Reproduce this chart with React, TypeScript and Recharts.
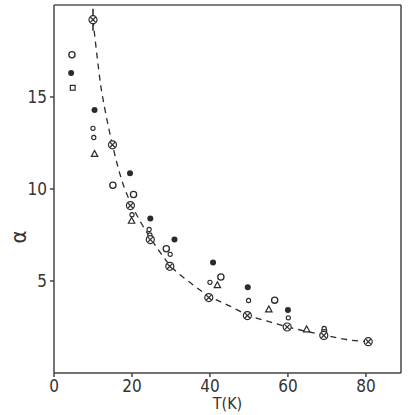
import { ComposedChart, ErrorBar, Label, Line, ReferenceLine, Scatter, XAxis, YAxis } from "recharts";

// dashed fit curve
const fitT = [10, 11, 12, 13, 15, 17.5, 20, 22.5, 25, 30, 35, 40, 45, 50, 55, 60, 65, 70, 75, 81.3];
const fitA = [19.2, 17.3, 15.6, 14.4, 12.4, 10.4, 9.1, 8.1, 7.25, 5.8, 4.9, 4.15, 3.65, 3.12, 2.8, 2.5, 2.25, 2.03, 1.82, 1.68];

// crossed circles (on the curve)
const crossT = [10, 15, 19.6, 24.7, 29.7, 39.7, 49.6, 59.8, 69.2, 80.6];
const crossA = [19.2, 12.4, 9.1, 7.25, 5.8, 4.1, 3.12, 2.5, 2.04, 1.7];
const crossErr = [0.6, 0, 0, 0, 0, 0, 0, 0, 0, 0];

// filled circles
const filledT = [4.4, 10.4, 19.5, 24.7, 30.9, 40.8, 49.7, 60];
const filledA = [16.3, 14.3, 10.85, 8.4, 7.25, 6.0, 4.66, 3.42];

// open circles
const openT = [4.6, 15.1, 20.4, 28.8, 42.8, 56.6];
const openA = [17.3, 10.2, 9.7, 6.75, 5.22, 3.96];

// small circles
const smallT = [10, 10.2, 20, 24.4, 24.6, 29.8, 40, 49.9, 60.1, 69.3];
const smallA = [13.3, 12.8, 8.6, 7.8, 7.5, 6.45, 4.93, 3.94, 3.0, 2.42];

// triangles
const triT = [10.4, 19.9, 41.9, 55.1, 64.8];
const triA = [11.9, 8.27, 4.77, 3.45, 2.37];

// squares
const sqT = [4.8, 69.3];
const sqA = [15.5, 2.22];

const xTicks = [0, 20, 40, 60, 80];
const yTicks = [5, 10, 15];

const pts = (t: number[], a: number[]) => t.map((T, i) => ({ T, a: a[i] }));

const fit = pts(fitT, fitA);
const cross = crossT.map((T, i) => ({ T, a: crossA[i], err: crossErr[i] }));

const INK = "#2a2a2a";
const FONT = "'Liberation Sans Narrow', 'DejaVu Sans Condensed', 'DejaVu Sans', sans-serif";

const CrossCircle = (p: any) => (
  <g stroke={INK} strokeWidth={1.2} fill="#fff">
    <circle cx={p.cx} cy={p.cy} r={4} />
    <line x1={p.cx - 2.7} y1={p.cy - 2.7} x2={p.cx + 2.7} y2={p.cy + 2.7} />
    <line x1={p.cx - 2.7} y1={p.cy + 2.7} x2={p.cx + 2.7} y2={p.cy - 2.7} />
  </g>
);
const Filled = (p: any) => <circle cx={p.cx} cy={p.cy} r={3} fill={INK} />;
const Open = (p: any) => <circle cx={p.cx} cy={p.cy} r={3.1} fill="#fff" stroke={INK} strokeWidth={1.3} />;
const Small = (p: any) => <circle cx={p.cx} cy={p.cy} r={2.1} fill="#fff" stroke={INK} strokeWidth={1.1} />;
const Tri = (p: any) => (
  <polygon
    points={`${p.cx},${p.cy - 3.5} ${p.cx - 3.2},${p.cy + 2.4} ${p.cx + 3.2},${p.cy + 2.4}`}
    fill="#fff"
    stroke={INK}
    strokeWidth={1.2}
  />
);
const Sq = (p: any) => (
  <rect x={p.cx - 2.4} y={p.cy - 2.4} width={4.8} height={4.8} fill="#fff" stroke={INK} strokeWidth={1.2} />
);

export default function App() {
  return (
    <div style={{ position: "absolute", left: 0, top: 0, background: "#fff" }}>
      <ComposedChart width={409} height={415} margin={{ top: 5, right: 8, left: 14, bottom: 0 }}>
        <XAxis
          dataKey="T"
          type="number"
          domain={[0, 89]}
          ticks={xTicks}
          height={42}
          stroke="#444"
          strokeWidth={1.5}
          tickSize={4}
          tickMargin={3}
          tick={{ fontSize: 17, fill: "#333", fontFamily: FONT }}
          allowDataOverflow
        >
          <Label value="T(K)" position="insideBottom" offset={6} style={{ fontSize: 16, fill: "#333", fontFamily: FONT }} />
        </XAxis>
        <YAxis
          dataKey="a"
          type="number"
          domain={[0, 20]}
          ticks={yTicks}
          width={40}
          stroke="#444"
          strokeWidth={1.5}
          tickSize={4}
          tickMargin={3}
          tick={{ fontSize: 17, fill: "#333", fontFamily: FONT }}
          allowDataOverflow
        >
          <Label
            content={() => (
              <text
                x={18}
                y={237}
                transform="rotate(-90 18 237)"
                textAnchor="middle"
                dominantBaseline="central"
                fontSize={22}
                fill="#333"
                fontFamily={FONT}
              >
                α
              </text>
            )}
          />
        </YAxis>
        <ReferenceLine y={20} stroke="#555" strokeWidth={1.5} />
        <ReferenceLine x={89} stroke="#444" strokeWidth={1.5} />
        <Line
          data={fit}
          dataKey="a"
          type="monotone"
          stroke={INK}
          strokeWidth={1.3}
          strokeDasharray="6 5"
          dot={false}
          activeDot={false}
          isAnimationActive={false}
        />
        <Scatter data={pts(filledT, filledA)} dataKey="a" shape={Filled} isAnimationActive={false} />
        <Scatter data={pts(openT, openA)} dataKey="a" shape={Open} isAnimationActive={false} />
        <Scatter data={pts(smallT, smallA)} dataKey="a" shape={Small} isAnimationActive={false} />
        <Scatter data={pts(triT, triA)} dataKey="a" shape={Tri} isAnimationActive={false} />
        <Scatter data={pts(sqT, sqA)} dataKey="a" shape={Sq} isAnimationActive={false} />
        <Scatter data={cross} dataKey="a" shape={CrossCircle} isAnimationActive={false}>
          <ErrorBar dataKey="err" direction="y" width={0} stroke={INK} strokeWidth={1.5} />
        </Scatter>
      </ComposedChart>
    </div>
  );
}
